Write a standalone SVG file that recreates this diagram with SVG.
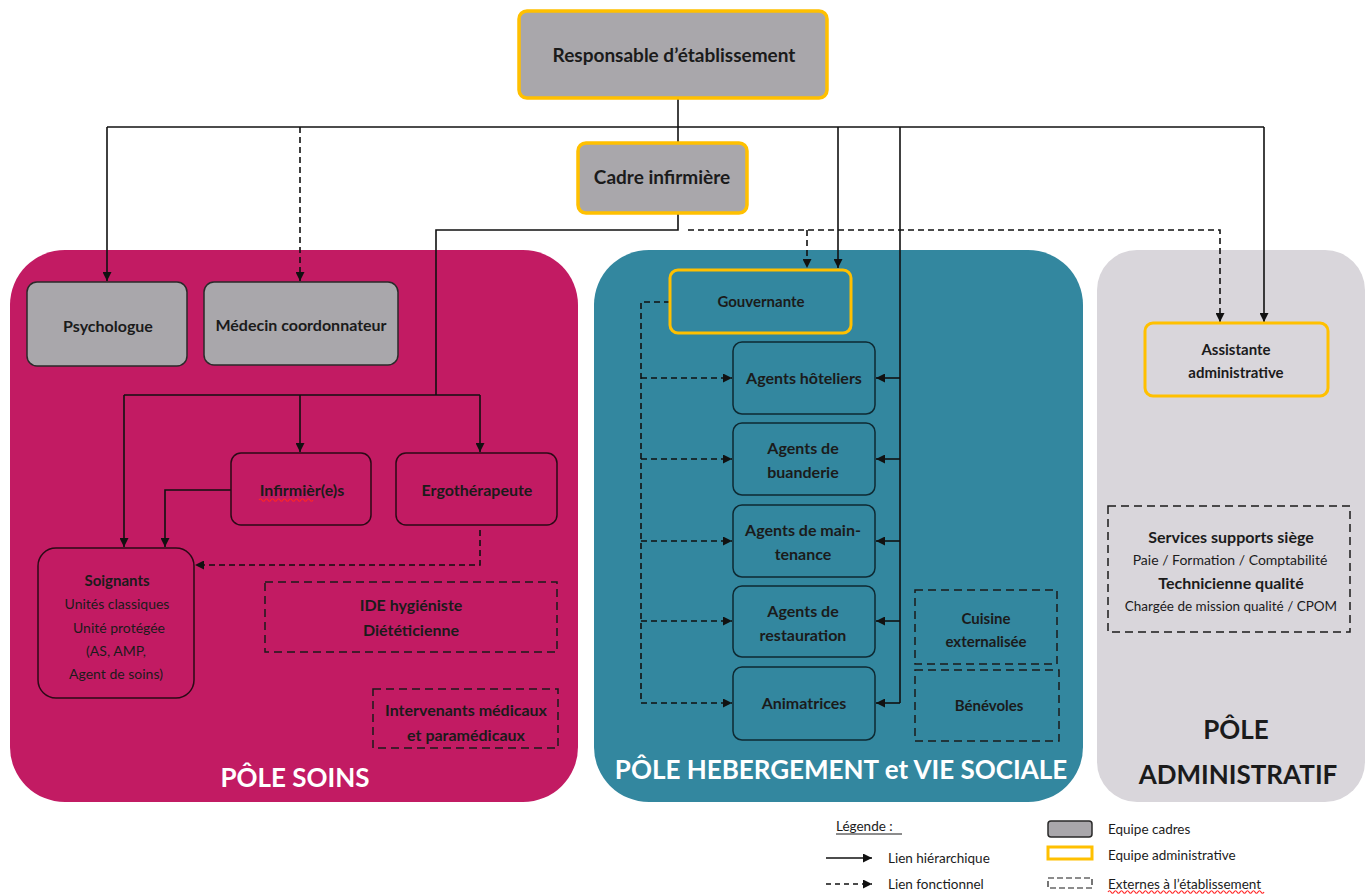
<svg xmlns="http://www.w3.org/2000/svg" width="1372" height="894" viewBox="0 0 1372 894">
  <style>
    text { font-family: Lato, "Open Sans", "Liberation Sans", sans-serif; fill: #1b1b1b; text-anchor: middle; }
    .b { font-weight: bold; }
    .n16 { font-size: 16px; }
    .n15 { font-size: 15px; }
    .n14 { font-size: 14px; }
    .title { font-size: 26px; font-weight: bold; fill: #ffffff; }
    .cadre { fill: #a9a7ab; stroke: #ffc000; stroke-width: 3.5; }
    .grey { fill: #a9a7ab; stroke: #2a2a2a; stroke-width: 1.5; }
    .pink { fill: #c21b63; stroke: #2a0a16; stroke-width: 1.5; }
    .teal { fill: #33879f; stroke: #0e2a33; stroke-width: 1.5; }
    .ext { fill: none; stroke: #1b1b1b; stroke-width: 1.5; stroke-dasharray: 8 5; }
    .hier { fill: none; stroke: #111; stroke-width: 1.6; }
    .fonc { fill: none; stroke: #111; stroke-width: 1.6; stroke-dasharray: 6 4; }
    .leg { font-size: 13.5px; text-anchor: start; }
    .squiggle { fill: none; stroke: #ff2626; stroke-width: 1.2; }
  </style>
  <defs>
    <marker id="arrow" viewBox="0 0 10 10" refX="10" refY="5" markerWidth="9" markerHeight="9" markerUnits="userSpaceOnUse" orient="auto">
      <path d="M0,0 L10,5 L0,10 z" fill="#111"/>
    </marker>
  </defs>

  <!-- pole backgrounds -->
  <g id="pole-soins">
    <rect x="10" y="250" width="568" height="552" rx="55" fill="#c21b63"/>
    <text class="title" x="295" y="787">PÔLE SOINS</text>
  </g>
  <g id="pole-hebergement">
    <rect x="594" y="250" width="489" height="552" rx="55" fill="#33879f"/>
    <text class="title" x="841" y="779">PÔLE HEBERGEMENT et VIE SOCIALE</text>
  </g>
  <g id="pole-administratif">
    <rect x="1097" y="250" width="268" height="552" rx="40" fill="#d9d6db"/>
    <text class="title" x="1236" y="739" style="fill:#1b1b1b">PÔLE</text>
    <text class="title" x="1238" y="784" style="fill:#1b1b1b">ADMINISTRATIF</text>
  </g>

  <!-- connectors -->
  <g id="connectors">
    <!-- hierarchical links from the director -->
    <path class="hier" d="M678,98 V143"/>
    <path class="hier" d="M107,127 H1264"/>
    <path class="hier" d="M107,127 V281" marker-end="url(#arrow)"/>
    <path class="hier" d="M838,127 V268" marker-end="url(#arrow)"/>
    <path class="hier" d="M1264,127 V322" marker-end="url(#arrow)"/>
    <path class="hier" d="M900,127 V703"/>
    <path class="hier" d="M900,378 H876" marker-end="url(#arrow)"/>
    <path class="hier" d="M900,459 H876" marker-end="url(#arrow)"/>
    <path class="hier" d="M900,541 H876" marker-end="url(#arrow)"/>
    <path class="hier" d="M900,621 H876" marker-end="url(#arrow)"/>
    <path class="hier" d="M900,703 H876" marker-end="url(#arrow)"/>
    <!-- functional link to the coordinating doctor -->
    <path class="fonc" d="M300,127 V281" marker-end="url(#arrow)"/>
    <!-- links from the nursing manager -->
    <path class="hier" d="M678,213 V230 H436 V395"/>
    <path class="hier" d="M124,395 H480"/>
    <path class="hier" d="M124,395 V547" marker-end="url(#arrow)"/>
    <path class="hier" d="M300,395 V452" marker-end="url(#arrow)"/>
    <path class="hier" d="M480,395 V452" marker-end="url(#arrow)"/>
    <path class="fonc" d="M688,230 H1220 V322" marker-end="url(#arrow)"/>
    <path class="fonc" d="M807,230 V268" marker-end="url(#arrow)"/>
    <!-- nurses to care staff -->
    <path class="hier" d="M231,490 H165 V547" marker-end="url(#arrow)"/>
    <!-- occupational therapist to care staff -->
    <path class="fonc" d="M480,530 V565 H195" marker-end="url(#arrow)"/>
    <!-- housekeeper to agents -->
    <path class="fonc" d="M670,302 H641 V703"/>
    <path class="fonc" d="M641,378 H732" marker-end="url(#arrow)"/>
    <path class="fonc" d="M641,459 H732" marker-end="url(#arrow)"/>
    <path class="fonc" d="M641,541 H732" marker-end="url(#arrow)"/>
    <path class="fonc" d="M641,621 H732" marker-end="url(#arrow)"/>
    <path class="fonc" d="M641,703 H732" marker-end="url(#arrow)"/>
  </g>

  <!-- management -->
  <g id="responsable">
    <rect class="cadre" x="519" y="11" width="308" height="87" rx="8"/>
    <text class="b" x="674" y="62" style="font-size:19px">Responsable d’établissement</text>
  </g>
  <g id="cadre-infirmiere">
    <rect class="cadre" x="578" y="143" width="169" height="70" rx="8"/>
    <text class="b" x="662" y="184" style="font-size:19px">Cadre infirmière</text>
  </g>

  <!-- care pole -->
  <g id="psychologue">
    <rect class="grey" x="27" y="282" width="160" height="84" rx="10"/>
    <text class="b n16" x="108" y="332">Psychologue</text>
  </g>
  <g id="medecin">
    <rect class="grey" x="204" y="282" width="194" height="83" rx="10"/>
    <text class="b n16" x="301" y="331">Médecin coordonnateur</text>
  </g>
  <g id="infirmieres">
    <rect class="pink" x="231" y="453" width="140" height="72" rx="10"/>
    <text class="b n16" x="302" y="496">Infirmièr(e)s</text>
    <path class="squiggle" d="M259,500 q1.5,-2.5 3,0 t3,0 t3,0 t3,0 t3,0 t3,0 t3,0 t3,0 t3,0 t3,0 t3,0 t3,0 t3,0 t3,0 t3,0 t3,0 t3,0 t3,0"/>
  </g>
  <g id="ergotherapeute">
    <rect class="pink" x="396" y="453" width="161" height="72" rx="10"/>
    <text class="b n16" x="477" y="496">Ergothérapeute</text>
  </g>
  <g id="soignants">
    <rect class="pink" x="38" y="548" width="156" height="150" rx="18"/>
    <text class="b n15" x="117" y="586">Soignants</text>
    <text class="n14" x="117" y="609">Unités classiques</text>
    <text class="n14" x="119" y="633">Unité protégée</text>
    <text class="n14" x="116" y="656">(AS, AMP,</text>
    <text class="n14" x="116" y="679">Agent de soins)</text>
  </g>
  <g id="ide-dieteticienne">
    <rect class="ext" x="265" y="582" width="292" height="70"/>
    <text class="b n16" x="411" y="611">IDE hygiéniste</text>
    <text class="b n16" x="411" y="636">Diététicienne</text>
  </g>
  <g id="intervenants">
    <rect class="ext" x="373" y="689" width="185" height="59"/>
    <text class="b n16" x="466" y="716">Intervenants médicaux</text>
    <text class="b n16" x="466" y="741">et paramédicaux</text>
  </g>

  <!-- accommodation pole -->
  <g id="gouvernante">
    <rect x="670" y="270" width="181" height="63" rx="8" fill="#33879f" stroke="#ffc000" stroke-width="3"/>
    <text class="b n15" x="761" y="307">Gouvernante</text>
  </g>
  <g id="agents-hoteliers">
    <rect class="teal" x="733" y="342" width="142" height="72" rx="9"/>
    <text class="b n16" x="804" y="384">Agents hôteliers</text>
  </g>
  <g id="agents-buanderie">
    <rect class="teal" x="733" y="423" width="142" height="72" rx="9"/>
    <text class="b n16" x="803" y="454">Agents de</text>
    <text class="b n16" x="803" y="478">buanderie</text>
  </g>
  <g id="agents-maintenance">
    <rect class="teal" x="733" y="505" width="142" height="72" rx="9"/>
    <text class="b n16" x="803" y="536">Agents de main-</text>
    <text class="b n16" x="803" y="560">tenance</text>
  </g>
  <g id="agents-restauration">
    <rect class="teal" x="733" y="586" width="142" height="71" rx="9"/>
    <text class="b n16" x="803" y="617">Agents de</text>
    <text class="b n16" x="803" y="641">restauration</text>
  </g>
  <g id="animatrices">
    <rect class="teal" x="733" y="667" width="142" height="73" rx="9"/>
    <text class="b n16" x="804" y="709">Animatrices</text>
  </g>
  <g id="cuisine">
    <rect class="ext" x="915" y="590" width="142" height="74"/>
    <text class="b n15" x="986" y="624">Cuisine</text>
    <text class="b n15" x="986" y="647">externalisée</text>
  </g>
  <g id="benevoles">
    <rect class="ext" x="915" y="670" width="144" height="71"/>
    <text class="b n15" x="989" y="711">Bénévoles</text>
  </g>

  <!-- administrative pole -->
  <g id="assistante">
    <rect x="1145" y="323" width="183" height="73" rx="8" fill="#d9d6db" stroke="#ffc000" stroke-width="3"/>
    <text class="b n15" x="1236" y="355">Assistante</text>
    <text class="b n15" x="1236" y="378">administrative</text>
  </g>
  <g id="services-supports">
    <rect class="ext" x="1108" y="506" width="242" height="126"/>
    <text class="b n16" x="1231" y="543">Services supports siège</text>
    <text class="n14" x="1230" y="565">Paie / Formation / Comptabilité</text>
    <text class="b n16" x="1231" y="589">Technicienne qualité</text>
    <text x="1231" y="611" style="font-size:13.5px">Chargée de mission qualité / CPOM</text>
  </g>

  <!-- legend -->
  <g id="legende">
    <text class="leg" x="836" y="831">Légende :</text>
    <line x1="836" y1="834" x2="902" y2="834" stroke="#1b1b1b" stroke-width="1"/>
    <path class="hier" d="M826,858 H872" marker-end="url(#arrow)"/>
    <text class="leg" x="888" y="863">Lien hiérarchique</text>
    <path class="fonc" d="M826,884 H872" style="stroke-dasharray:5 4" marker-end="url(#arrow)"/>
    <text class="leg" x="888" y="889">Lien fonctionnel</text>
    <rect x="1048" y="821" width="44" height="16" rx="3" fill="#a9a7ab" stroke="#2a2a2a" stroke-width="1.5"/>
    <text class="leg" x="1108" y="834">Equipe cadres</text>
    <rect x="1048" y="847" width="44" height="12" fill="none" stroke="#ffc000" stroke-width="3"/>
    <text class="leg" x="1108" y="860">Equipe administrative</text>
    <rect x="1048" y="878" width="44" height="10" fill="none" stroke="#1b1b1b" stroke-width="1.2" stroke-dasharray="6 3"/>
    <text class="leg" x="1108" y="889">Externes à l’établissement</text>
    <path class="squiggle" d="M1108,892 q1.5,-2.5 3,0 t3,0 t3,0 t3,0 t3,0 t3,0 t3,0 t3,0 t3,0 t3,0 t3,0 t3,0 t3,0 t3,0 t3,0 t3,0 t3,0 t3,0 t3,0 t3,0 t3,0 t3,0 t3,0 t3,0 t3,0 t3,0 t3,0 t3,0 t3,0 t3,0 t3,0 t3,0 t3,0 t3,0 t3,0 t3,0 t3,0 t3,0 t3,0 t3,0 t3,0 t3,0 t3,0 t3,0 t3,0 t3,0 t3,0 t3,0 t3,0 t3,0 t3,0 t3,0"/>
  </g>
</svg>
